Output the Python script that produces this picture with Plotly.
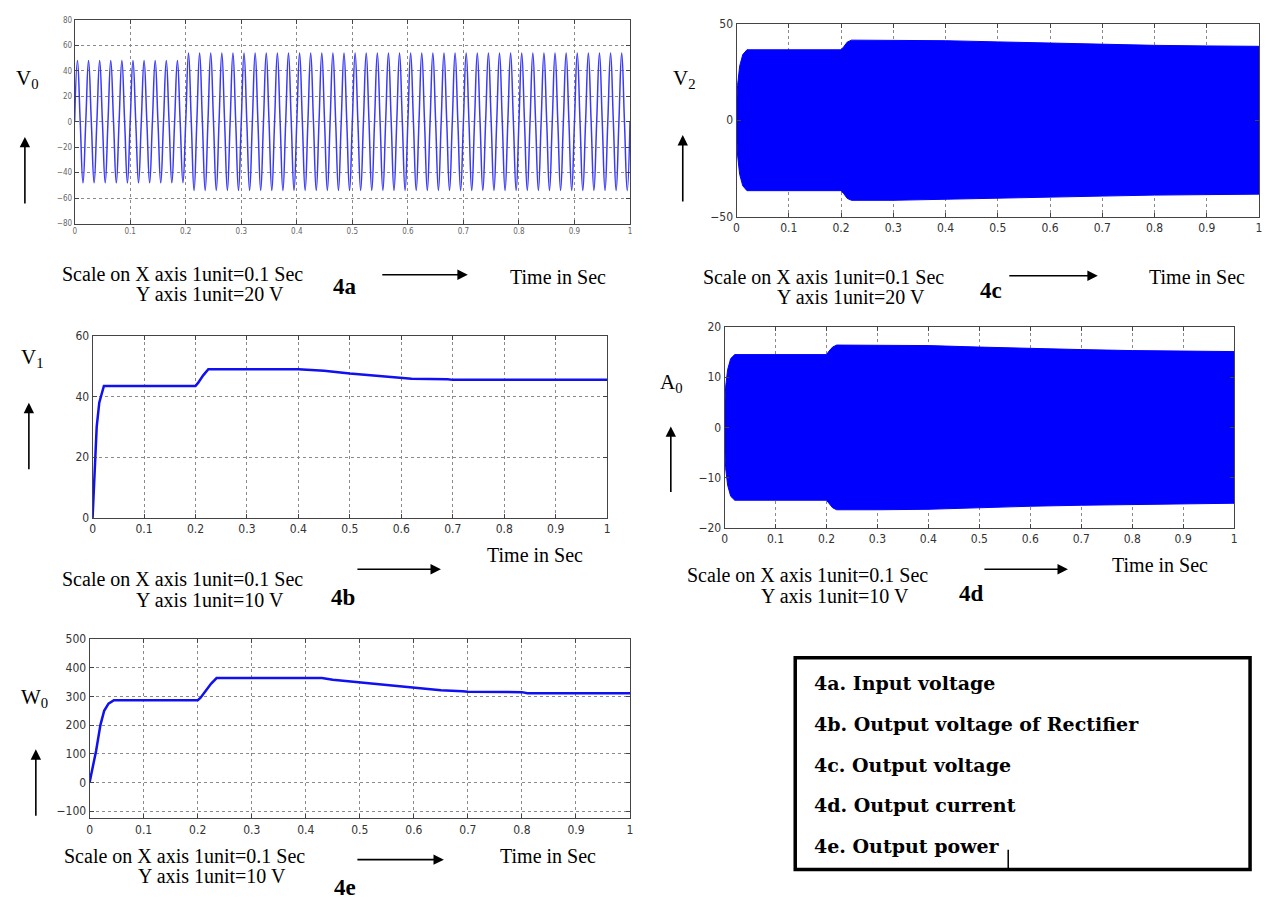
import plotly.graph_objects as go

W, H = 1266, 908

# ---------------- data ----------------
# 4a: input voltage, 50 Hz sine; amplitude per cycle (V)
cycle_amp_a = [48] * 10 + [54] * 40
freq_a = 50.0

# 4b: rectifier output voltage (V)
t_b = [0, 0.004, 0.008, 0.013, 0.018, 0.022, 0.2, 0.205, 0.215, 0.225, 0.4, 0.45, 0.5, 0.55, 0.6, 0.62, 0.69, 0.7, 1.0]
v_b = [0, 18, 30, 38, 41.5, 43.5, 43.5, 44.5, 47, 49, 49, 48.5, 47.6, 46.9, 46.2, 45.9, 45.7, 45.5, 45.5]

# 4c: output voltage envelope (V)
t_c = [0, 0.002, 0.006, 0.012, 0.02, 0.2, 0.205, 0.212, 0.22, 0.3, 0.4, 0.5, 0.6, 0.7, 0.8, 0.9, 1.0]
env_c = [6, 18, 28, 34, 36.5, 36.5, 38, 40.5, 41.5, 41.5, 41.2, 40.6, 39.9, 39.3, 38.8, 38.5, 38.3]

# 4d: output current envelope (A)
t_d = [0, 0.002, 0.006, 0.012, 0.02, 0.2, 0.205, 0.212, 0.22, 0.3, 0.4, 0.5, 0.6, 0.7, 0.8, 0.9, 1.0]
env_d = [3, 8, 11.5, 13.7, 14.5, 14.5, 15.2, 16, 16.4, 16.4, 16.3, 16.0, 15.7, 15.5, 15.3, 15.2, 15.1]

# 4e: output power (W)
t_e = [0, 0.006, 0.012, 0.02, 0.027, 0.035, 0.045, 0.2, 0.205, 0.215, 0.225, 0.235, 0.43, 0.45, 0.5, 0.55, 0.6, 0.65, 0.69, 0.7, 0.8, 0.81, 1.0]
p_e = [0, 50, 110, 200, 250, 275, 287, 287, 295, 320, 345, 364, 364, 358, 349, 340, 329, 322, 318, 316, 315, 311, 311]

ticks_x = [0, 0.1, 0.2, 0.3, 0.4, 0.5, 0.6, 0.7, 0.8, 0.9, 1.0]
ticklab_x = ["0", "0.1", "0.2", "0.3", "0.4", "0.5", "0.6", "0.7", "0.8", "0.9", "1"]
ticks_a = [-80, -60, -40, -20, 0, 20, 40, 60, 80]
ticks_b = [0, 20, 40, 60]
ticks_c = [-50, 0, 50]
ticks_d = [-20, -10, 0, 10, 20]
ticks_e = [-100, 0, 100, 200, 300, 400, 500]

legend_lines = ["4a. Input voltage", "4b. Output voltage of Rectifier", "4c. Output voltage",
                "4d. Output current", "4e. Output power"]

# ---------------- helpers ----------------
def px(x):
    return x / W

def py(y):
    return 1 - y / H

# build 4a sine through extrema / zero crossings
half = 1.0 / freq_a / 4
t_a, v_a = [], []
for k, A in enumerate(cycle_amp_a):
    t0 = k / freq_a
    for j, s in enumerate([0, 1, 0, -1]):
        t_a.append(t0 + j * half)
        v_a.append(s * A)
t_a.append(1.0)
v_a.append(0)

fig = go.Figure()

tickfont_family = "Liberation Sans Narrow, DejaVu Sans Condensed, Arial Narrow, sans-serif"

def add_axes(idx, dom_x, dom_y, yr, yt, fs=11, tcol="#333"):
    xa = "xaxis" if idx == 1 else f"xaxis{idx}"
    ya = "yaxis" if idx == 1 else f"yaxis{idx}"
    yanchor = "y" if idx == 1 else f"y{idx}"
    xanchor = "x" if idx == 1 else f"x{idx}"
    common = dict(showline=True, linecolor="#444", linewidth=1, mirror="ticks", ticks="inside",
                  ticklen=4, tickcolor="#444", showgrid=True, gridcolor="#8a8a8a", griddash="dot",
                  gridwidth=1, zeroline=False, tickfont=dict(family=tickfont_family, size=fs, color=tcol))
    fig.update_layout({
        xa: dict(domain=[px(dom_x[0]), px(dom_x[1])], range=[0, 1], anchor=yanchor,
                 tickvals=ticks_x, ticktext=ticklab_x, **common),
        ya: dict(domain=[py(dom_y[1]), py(dom_y[0])], range=yr, anchor=xanchor,
                 tickvals=yt, **common),
    })

# 4a
fig.add_trace(go.Scatter(x=t_a, y=v_a, mode="lines",
                         line=dict(color="#3b3bf5", width=1.5, shape="spline", smoothing=1.3),
                         xaxis="x", yaxis="y", hoverinfo="skip"))
add_axes(1, (72, 630), (13, 220), [-80, 80], ticks_a, fs=8, tcol="#666")

# 4b
fig.add_trace(go.Scatter(x=t_b, y=v_b, mode="lines", line=dict(color="#1010f0", width=2.5),
                         xaxis="x2", yaxis="y2", hoverinfo="skip"))
add_axes(2, (90, 607), (334, 519), [0, 60], ticks_b, fs=12)

# 4c
fig.add_trace(go.Scatter(x=t_c + t_c[::-1], y=env_c + [-v for v in env_c[::-1]], mode="lines",
                         fill="toself", fillcolor="#0000ff", line=dict(color="#0000ff", width=1),
                         xaxis="x3", yaxis="y3", hoverinfo="skip"))
add_axes(3, (737, 1262), (17, 213), [-50, 50], ticks_c, fs=12)

# 4d
fig.add_trace(go.Scatter(x=t_d + t_d[::-1], y=env_d + [-v for v in env_d[::-1]], mode="lines",
                         fill="toself", fillcolor="#0000ff", line=dict(color="#0000ff", width=1),
                         xaxis="x4", yaxis="y4", hoverinfo="skip"))
add_axes(4, (725, 1237), (325, 529), [-20, 20], ticks_d, fs=12)

# 4e
fig.add_trace(go.Scatter(x=t_e, y=p_e, mode="lines", line=dict(color="#1010f0", width=2.5),
                         xaxis="x5", yaxis="y5", hoverinfo="skip"))
add_axes(5, (87, 630), (642, 824), [-125, 500], ticks_e, fs=12)

# ---------------- annotations ----------------
ann = []
serif = "Liberation Serif, Times New Roman, serif"
wide_serif = "DejaVu Serif, Liberation Serif, serif"

def text(x, y, s, size=20, bold=False, anchor="left", family=serif):
    ann.append(dict(x=px(x), y=py(y), xref="paper", yref="paper", text=f"<b>{s}</b>" if bold else s,
                    showarrow=False, xanchor=anchor, yanchor="middle", borderpad=0,
                    font=dict(family=family, size=size, color="black")))

def arrow(x0, y0, x1, y1):
    ann.append(dict(x=px(x1), y=py(y1), xref="paper", yref="paper", ax=x0 - x1, ay=y0 - y1,
                    axref="pixel", ayref="pixel", text="", showarrow=True, arrowhead=2, arrowsize=1.3,
                    arrowwidth=1.6, arrowcolor="black"))

# y labels and up arrows
text(12, 73, "V<sub>0</sub>", 21)
arrow(22, 200, 22, 132)
text(672, 73, "V<sub>2</sub>", 21)
arrow(683, 198, 683, 130)
text(17, 356, "V<sub>1</sub>", 21)
arrow(26, 470, 26, 402)
text(659, 382, "A<sub>0</sub>", 21)
arrow(671, 493, 671, 426)
text(17, 702, "W<sub>0</sub>", 21)
arrow(33, 822, 33, 754)

# scale notes
def scale_block(x, y, ylab, dy=21):
    text(x, y, "Scale on X axis 1unit=0.1 Sec", 20)
    text(x + 75, y + dy, ylab, 20)

scale_block(58, 271, "Y axis 1unit=20 V")
text(331, 284, "4a", 23, bold=True)
arrow(380, 272, 467, 272)
text(508, 274, "Time in Sec", 20)

scale_block(702, 274, "Y axis 1unit=20 V")
text(981, 288, "4c", 23, bold=True)
arrow(1010, 273, 1100, 273)
text(1150, 274, "Time in Sec", 20)

scale_block(58, 581, "Y axis 1unit=10 V")
text(329, 600, "4b", 23, bold=True)
arrow(355, 571, 440, 571)
text(485, 557, "Time in Sec", 20)

scale_block(686, 577, "Y axis 1unit=10 V")
text(960, 596, "4d", 23, bold=True)
arrow(985, 571, 1070, 571)
text(1113, 567, "Time in Sec", 20)

scale_block(60, 862, "Y axis 1unit=10 V")
text(332, 894, "4e", 23, bold=True)
arrow(355, 866, 443, 866)
text(498, 862, "Time in Sec", 20)

# legend box text
for i, s in enumerate(legend_lines):
    text(814, 687 + i * 41.3, s, 19, bold=True, family=wide_serif)

fig.update_layout(
    width=W, height=H, margin=dict(l=0, r=0, t=0, b=0),
    paper_bgcolor="white", plot_bgcolor="white", showlegend=False,
    annotations=ann,
    shapes=[dict(type="rect", xref="paper", yref="paper", x0=px(796), x1=px(1253), y0=py(876), y1=py(661),
                 line=dict(color="black", width=3.5)),
            dict(type="line", xref="paper", yref="paper", x0=px(1010), x1=px(1010), y0=py(876), y1=py(856),
                 line=dict(color="black", width=1.5))],
)

fig.write_html("out.html", config={"displayModeBar": False},
               post_script="document.body.style.margin='0';document.body.style.overflow='hidden';")
